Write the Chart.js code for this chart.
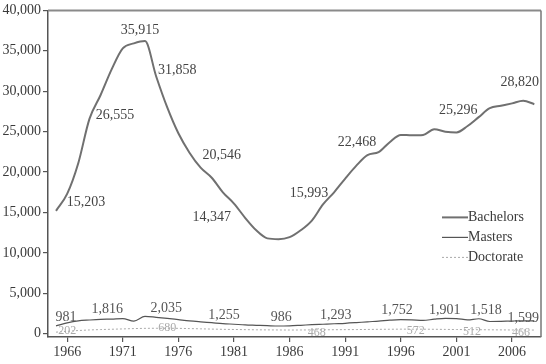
<!DOCTYPE html>
<html>
<head>
<meta charset="utf-8">
<script src="https://cdn.jsdelivr.net/npm/chart.js@4.4.1/dist/chart.umd.min.js"></script>
<style>
  html, body { margin: 0; padding: 0; background: #fff; }
  canvas { display: block; }
</style>
</head>
<body>
<canvas id="chart" width="546" height="364"></canvas>
<script>
const SERIF = '"Liberation Serif", "DejaVu Serif", serif';
const INK = '#3a3a3a';

const years = [1965, 1966, 1967, 1968, 1969, 1970, 1971, 1972, 1973, 1974,
  1975, 1976, 1977, 1978, 1979, 1980, 1981, 1982, 1983, 1984,
  1985, 1986, 1987, 1988, 1989, 1990, 1991, 1992, 1993, 1994,
  1995, 1996, 1997, 1998, 1999, 2000, 2001, 2002, 2003, 2004,
  2005, 2006, 2007, 2008];

const bachelors = [15203, 17300, 21100, 26555, 29500, 32700, 35300, 35915, 36200, 31858,
  28000, 24800, 22400, 20546, 19300, 17500, 16100, 14347, 12800, 11800,
  11700, 11950, 12800, 14000, 15993, 17500, 19200, 20800, 22100, 22468,
  23700, 24600, 24550, 24600, 25296, 25000, 24900, 25700, 26800, 27900,
  28200, 28500, 28820, 28400];

const masters = [981, 1350, 1600, 1700, 1780, 1816, 1880, 1560, 2150, 2035,
  1900, 1750, 1600, 1480, 1370, 1255, 1180, 1100, 1050, 1000,
  960, 986, 1050, 1120, 1180, 1240, 1293, 1380, 1480, 1560,
  1680, 1752, 1720, 1650, 1800, 1901, 1880, 1720, 1860, 1518,
  1540, 1580, 1590, 1599];

const doctorate = [202, 300, 400, 470, 520, 560, 600, 640, 670, 680,
  680, 670, 640, 610, 580, 550, 530, 510, 490, 480,
  470, 465, 468, 480, 490, 500, 510, 520, 535, 550,
  560, 570, 572, 565, 555, 540, 525, 512, 500, 490,
  480, 470, 466, 460];

const xTicks = [1966, 1971, 1976, 1981, 1986, 1991, 1996, 2001, 2006];
const yTicks = [0, 5000, 10000, 15000, 20000, 25000, 30000, 35000, 40000];

// value labels, anchored in data units [year, value, text]
const bachelorsNotes = [
  [1967.7, 16200, '15,203'], [1970.3, 27060, '26,555'], [1972.55, 37560, '35,915'],
  [1975.9, 32550, '31,858'], [1979.9, 22050, '20,546'], [1979.0, 14370, '14,347'],
  [1987.75, 17420, '15,993'], [1992.05, 23640, '22,468'], [2001.15, 27670, '25,296'],
  [2006.7, 31090, '28,820'],
];
const mastersNotes = [
  [1965.9, 2040, '981'], [1969.6, 3010, '1,816'], [1974.9, 3140, '2,035'],
  [1980.1, 2280, '1,255'], [1985.25, 2040, '986'], [1990.15, 2280, '1,293'],
  [1995.65, 2890, '1,752'], [1999.95, 2890, '1,901'], [2003.65, 2890, '1,518'],
  [2007.0, 1920, '1,599'],
];
const doctorateNotes = [
  [1966.0, 330, '202'], [1975.0, 700, '680'], [1988.45, 90, '468'],
  [1997.35, 330, '572'], [2002.4, 210, '512'], [2006.8, 90, '466'],
];

const noteGroups = [
  { items: bachelorsNotes, font: `14px ${SERIF}`, color: '#444' },
  { items: mastersNotes, font: `14px ${SERIF}`, color: '#555' },
  { items: doctorateNotes, font: `12px ${SERIF}`, color: '#aaa' },
];

const notes = {
  id: 'notes',
  afterDatasetsDraw(chart) {
    const { ctx, scales: { x, y } } = chart;
    ctx.save();
    ctx.textAlign = 'center';
    ctx.textBaseline = 'middle';
    noteGroups.forEach((g) => {
      ctx.font = g.font;
      ctx.fillStyle = g.color;
      g.items.forEach(([yr, v, text]) => ctx.fillText(text, x.getPixelForValue(yr), y.getPixelForValue(v)));
    });
    ctx.restore();
  },
};

// top and right edges of the box
const frame = {
  id: 'frame',
  afterDraw(chart) {
    const { ctx, chartArea: a } = chart;
    ctx.save();
    ctx.strokeStyle = '#8a8a8a';
    ctx.lineWidth = 2;
    ctx.beginPath();
    ctx.moveTo(a.left, a.top);
    ctx.lineTo(a.right, a.top);
    ctx.stroke();
    ctx.lineWidth = 1.5;
    ctx.strokeStyle = '#777';
    ctx.beginPath();
    ctx.moveTo(a.right, a.top);
    ctx.lineTo(a.right, a.bottom);
    ctx.stroke();
    ctx.restore();
  },
};

// legend sitting inside the plot, lower right
const boxLegend = {
  id: 'boxLegend',
  afterDraw(chart) {
    const { ctx, chartArea: a } = chart;
    ctx.save();
    ctx.font = `14px ${SERIF}`;
    ctx.fillStyle = INK;
    ctx.textBaseline = 'middle';
    chart.data.datasets.forEach((ds, i) => {
      const y = a.top + 207 + i * 20;
      ctx.strokeStyle = ds.borderColor;
      ctx.lineWidth = ds.borderWidth;
      ctx.setLineDash(ds.borderDash || []);
      ctx.beginPath();
      ctx.moveTo(a.right - 99, y);
      ctx.lineTo(a.right - 73, y);
      ctx.stroke();
      ctx.setLineDash([]);
      ctx.fillText(ds.label, a.right - 73, y);
    });
    ctx.restore();
  },
};

const points = (vals) => years.map((yr, i) => ({ x: yr, y: vals[i] }));

new Chart(document.getElementById('chart'), {
  type: 'line',
  data: {
    datasets: [
      { label: 'Bachelors', data: points(bachelors), borderColor: '#707070', borderWidth: 2 },
      { label: 'Masters', data: points(masters), borderColor: '#555', borderWidth: 1.2 },
      { label: 'Doctorate', data: points(doctorate), borderColor: '#aaa', borderWidth: 1, borderDash: [2, 2] },
    ],
  },
  options: {
    responsive: false,
    animation: false,
    devicePixelRatio: 1,
    layout: { padding: { top: 6, right: 5, left: 0, bottom: 0 } },
    elements: {
      point: { radius: 0 },
      line: { tension: 0.3, cubicInterpolationMode: 'monotone', fill: false },
    },
    plugins: { legend: { display: false }, tooltip: { enabled: false } },
    scales: {
      x: {
        type: 'linear',
        min: 1964.28,
        max: 2008.6,
        afterBuildTicks: (s) => { s.ticks = xTicks.map((v) => ({ value: v })); },
        afterFit: (s) => { s.height = 27; },
        ticks: {
          color: INK,
          font: { family: SERIF, size: 14 },
          padding: 2,
          maxRotation: 0,
          autoSkip: false,
          callback: (v) => String(v),
        },
        grid: { drawOnChartArea: false, tickLength: 5, color: '#555', lineWidth: 1.2 },
        border: { color: '#555', width: 1.5 },
      },
      y: {
        min: -400,
        max: 40000,
        afterBuildTicks: (s) => { s.ticks = yTicks.map((v) => ({ value: v })); },
        afterFit: (s) => { s.width = 48; },
        ticks: {
          color: INK,
          font: { family: SERIF, size: 14 },
          padding: 2,
          callback: (v) => v.toLocaleString('en-US'),
        },
        grid: { drawOnChartArea: false, tickLength: 5, color: '#555', lineWidth: 1.2 },
        border: { color: '#555', width: 1.5 },
      },
    },
  },
  plugins: [notes, frame, boxLegend],
});
</script>
</body>
</html>
